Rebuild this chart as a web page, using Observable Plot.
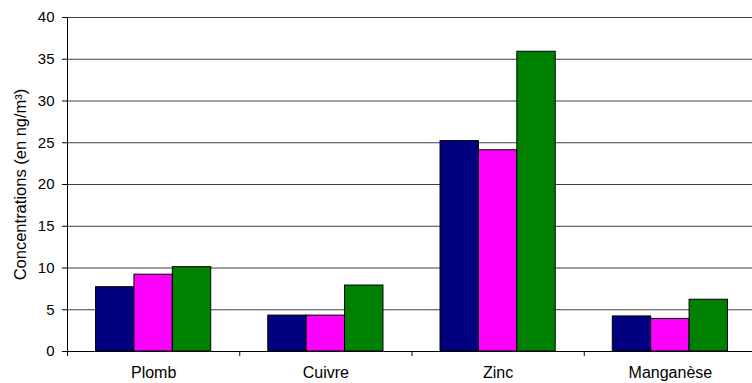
<!DOCTYPE html>
<html><head><meta charset="utf-8">
<script src="https://cdn.jsdelivr.net/npm/d3@7"></script>
<script src="https://cdn.jsdelivr.net/npm/@observablehq/plot@0.6"></script>
<style>
body{margin:0;background:#fff;}
#chart svg{font-family:"Liberation Sans",Arial,sans-serif;}
</style>
</head><body><div id="chart"></div>
<script>
const categories = ["Plomb", "Cuivre", "Zinc", "Manganèse"];
const series = ["Série 1", "Série 2", "Série 3"];
const serie1 = [7.7, 4.3, 25.2, 4.2];
const serie2 = [9.2, 4.3, 24.1, 3.9];
const serie3 = [10.1, 7.9, 35.9, 6.2];
const colors = ["#000080", "#FF00FF", "#008000"];
const yTicks = [0, 5, 10, 15, 20, 25, 30, 35, 40];
const yLabel = "Concentrations (en ng/m³)";

const values = [serie1, serie2, serie3];
const data = categories.flatMap((c, ci) =>
  values.map((v, si) => ({category: c, ci, series: series[si], value: v[ci]})));

// within-category band layout (library band scale)
const inner = d3.scaleBand(series, [0, 1]).paddingInner(0).paddingOuter(0.743);

const chart = Plot.plot({
  width: 752,
  height: 383,
  marginLeft: 67,
  marginRight: -4,
  marginTop: 17,
  marginBottom: 32,
  style: {background: "#fff", color: "#000", fontFamily: "Liberation Sans, Arial, sans-serif"},
  x: {type: "linear", domain: [0, categories.length]},
  y: {domain: [0, 40]},
  color: {domain: series, range: colors},
  marks: [
    Plot.gridY({ticks: yTicks, stroke: "#404040", strokeOpacity: 1}),
    Plot.rectY(data, {
      x1: d => d.ci + inner(d.series),
      x2: d => d.ci + inner(d.series) + inner.bandwidth(),
      y: "value",
      fill: "series",
      stroke: "black",
      strokeWidth: 1
    }),
    Plot.ruleY([0], {stroke: "black"}),
    Plot.ruleX([0], {stroke: "black"}),
    Plot.axisY({ticks: yTicks, tickSize: 5, tickPadding: 8, fontSize: 15, label: null}),
    Plot.axisX({ticks: d3.range(categories.length + 1), tickSize: 5, tickFormat: () => "", label: null}),
    Plot.axisX({
      ticks: categories.map((_, i) => i + 0.5),
      tickSize: 0,
      tickPadding: 15,
      fontSize: 16,
      tickFormat: d => categories[Math.floor(d)],
      label: null
    }),
    Plot.text([yLabel], {frameAnchor: "left", textAnchor: "middle", rotate: -90, dx: -47, fontSize: 16.5, fill: "black"})
  ]
});
document.getElementById("chart").appendChild(chart);
</script>
</body></html>
